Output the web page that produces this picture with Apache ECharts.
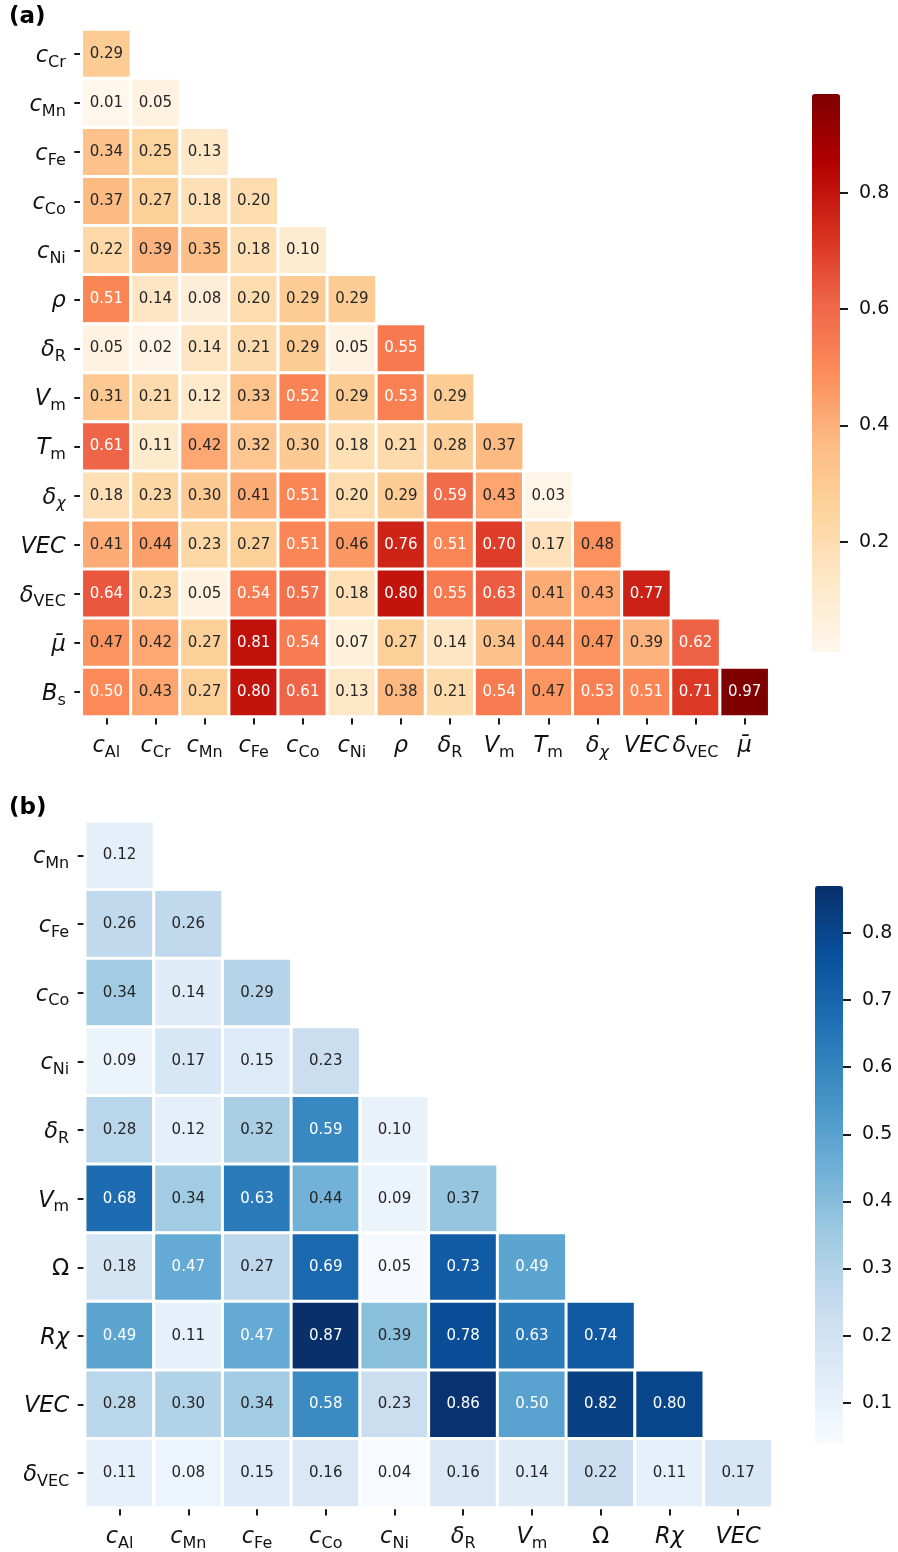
<!DOCTYPE html>
<html><head><meta charset="utf-8">
<script src="https://cdn.jsdelivr.net/npm/echarts@6/dist/echarts.min.js"></script>
<style>html,body{margin:0;padding:0;background:#fff}#c{width:898px;height:1552px}</style>
</head><body><div id="c"></div>
<script>
// ---------- data ----------
const xLabelsA = ['{i|c}{s|Al}','{i|c}{s|Cr}','{i|c}{s|Mn}','{i|c}{s|Fe}','{i|c}{s|Co}','{i|c}{s|Ni}','{i|ρ}','{i|δ}{s|R}','{i|V}{s|m}','{i|T}{s|m}','{i|δ}{si|χ}','{i|VEC}','{i|δ}{s|VEC}','{i|μ\u0304}'];
const yLabelsA = ['{i|c}{s|Cr}','{i|c}{s|Mn}','{i|c}{s|Fe}','{i|c}{s|Co}','{i|c}{s|Ni}','{i|ρ}','{i|δ}{s|R}','{i|V}{s|m}','{i|T}{s|m}','{i|δ}{si|χ}','{i|VEC}','{i|δ}{s|VEC}','{i|μ\u0304}','{i|B}{s|s}'];
const corrA = [
  [0.29],
  [0.01, 0.05],
  [0.34, 0.25, 0.13],
  [0.37, 0.27, 0.18, 0.20],
  [0.22, 0.39, 0.35, 0.18, 0.10],
  [0.51, 0.14, 0.08, 0.20, 0.29, 0.29],
  [0.05, 0.02, 0.14, 0.21, 0.29, 0.05, 0.55],
  [0.31, 0.21, 0.12, 0.33, 0.52, 0.29, 0.53, 0.29],
  [0.61, 0.11, 0.42, 0.32, 0.30, 0.18, 0.21, 0.28, 0.37],
  [0.18, 0.23, 0.30, 0.41, 0.51, 0.20, 0.29, 0.59, 0.43, 0.03],
  [0.41, 0.44, 0.23, 0.27, 0.51, 0.46, 0.76, 0.51, 0.70, 0.17, 0.48],
  [0.64, 0.23, 0.05, 0.54, 0.57, 0.18, 0.80, 0.55, 0.63, 0.41, 0.43, 0.77],
  [0.47, 0.42, 0.27, 0.81, 0.54, 0.07, 0.27, 0.14, 0.34, 0.44, 0.47, 0.39, 0.62],
  [0.50, 0.43, 0.27, 0.80, 0.61, 0.13, 0.38, 0.21, 0.54, 0.47, 0.53, 0.51, 0.71, 0.97]
];
const xLabelsB = ['{i|c}{s|Al}','{i|c}{s|Mn}','{i|c}{s|Fe}','{i|c}{s|Co}','{i|c}{s|Ni}','{i|δ}{s|R}','{i|V}{s|m}','{u|Ω}','{i|Rχ}','{i|VEC}'];
const yLabelsB = ['{i|c}{s|Mn}','{i|c}{s|Fe}','{i|c}{s|Co}','{i|c}{s|Ni}','{i|δ}{s|R}','{i|V}{s|m}','{u|Ω}','{i|Rχ}','{i|VEC}','{i|δ}{s|VEC}'];
const corrB = [
  [0.12],
  [0.26, 0.26],
  [0.34, 0.14, 0.29],
  [0.09, 0.17, 0.15, 0.23],
  [0.28, 0.12, 0.32, 0.59, 0.10],
  [0.68, 0.34, 0.63, 0.44, 0.09, 0.37],
  [0.18, 0.47, 0.27, 0.69, 0.05, 0.73, 0.49],
  [0.49, 0.11, 0.47, 0.87, 0.39, 0.78, 0.63, 0.74],
  [0.28, 0.30, 0.34, 0.58, 0.23, 0.86, 0.50, 0.82, 0.80],
  [0.11, 0.08, 0.15, 0.16, 0.04, 0.16, 0.14, 0.22, 0.11, 0.17]
];
const cbTicksA = [0.2, 0.4, 0.6, 0.8];
const cbTicksB = [0.1, 0.2, 0.3, 0.4, 0.5, 0.6, 0.7, 0.8];

// ---------- styles ----------
const F = 'DejaVu Sans';
const TXT = '#262626';
const TICK = '#1a1a1a';
const OrRd = ['#fff7ec','#fee8c8','#fdd49e','#fdbb84','#fc8d59','#ef6548','#d7301f','#b30000','#7f0000'];
const Blues = ['#f7fbff','#deebf7','#c6dbef','#9ecae1','#6baed6','#4292c6','#2171b5','#08519c','#08306b'];
const whiteAboveA = 0.495, whiteAboveB = 0.455;

const rich = {
  i: {fontFamily: F, fontStyle: 'italic', fontSize: 22.5, color: '#111', lineHeight: 34, padding: [4, 0, 0, 0]},
  u: {fontFamily: F, fontSize: 22.5, color: '#111', lineHeight: 34, padding: [4, 0, 0, 0]},
  s: {fontFamily: F, fontSize: 16, color: '#111', padding: [17, 0, 0, 0]},
  si: {fontFamily: F, fontStyle: 'italic', fontSize: 16, color: '#111', padding: [17, 0, 0, 0]}
};

function cells(rows, thr) {
  const out = [];
  rows.forEach((row, r) => row.forEach((v, c) => {
    out.push({value: [c, r, v], label: {color: v > thr ? '#ffffff' : TXT}});
  }));
  return out;
}
const flat = a => a.reduce((s, r) => s.concat(r), []);
const minA = Math.min(...flat(corrA)), maxA = Math.max(...flat(corrA));
const minB = Math.min(...flat(corrB)), maxB = Math.max(...flat(corrB));

function catX(data, gi) {
  return {type: 'category', gridIndex: gi, data: data, position: 'bottom',
    axisLine: {show: false}, splitLine: {show: false},
    axisTick: {show: true, alignWithLabel: true, length: 8, lineStyle: {color: TICK, width: 2}},
    axisLabel: {interval: 0, margin: 11, formatter: v => v, rich: rich}};
}
function catY(data, gi) {
  return {type: 'category', gridIndex: gi, data: data, inverse: true,
    axisLine: {show: false}, splitLine: {show: false},
    axisTick: {show: true, alignWithLabel: true, length: 7.5, lineStyle: {color: TICK, width: 2}},
    axisLabel: {interval: 0, margin: 16, formatter: v => v, rich: rich}};
}
function cbX(gi) { return {type: 'category', gridIndex: gi, show: false, data: ['']}; }
function cbY(gi, mn, mx, ticks) {
  return {type: 'value', gridIndex: gi, position: 'right', min: mn, max: mx,
    axisLine: {show: false}, splitLine: {show: false},
    axisTick: {show: true, length: 8, customValues: ticks, lineStyle: {color: TICK, width: 2}},
    axisLabel: {customValues: ticks, margin: 19, fontFamily: F, fontSize: 19, color: '#111', formatter: v => v.toFixed(1)}};
}

const option = {
  backgroundColor: '#fff',
  animation: false,
  title: [
    {text: '(a)', left: 9, top: 6, padding: 0, textStyle: {fontFamily: F, fontWeight: 'bold', fontSize: 23, color: '#000'}},
    {text: '(b)', left: 9, top: 797, padding: 0, textStyle: {fontFamily: F, fontWeight: 'bold', fontSize: 23, color: '#000'}}
  ],
  grid: [
    {left: 81.8, top: 29.5, width: 687.4, height: 687},
    {left: 85.2, top: 821.2, width: 687.3, height: 687},
    {left: 812, top: 94, width: 28, height: 558},
    {left: 815, top: 886, width: 28, height: 557}
  ],
  xAxis: [catX(xLabelsA, 0), catX(xLabelsB, 1), cbX(2), cbX(3)],
  yAxis: [catY(yLabelsA, 0), catY(yLabelsB, 1), cbY(2, minA, maxA, cbTicksA), cbY(3, minB, maxB, cbTicksB)],
  visualMap: [
    {type: 'continuous', seriesIndex: 0, min: minA, max: maxA, calculable: false, orient: 'vertical',
     left: 812, top: 94, itemWidth: 28, itemHeight: 558, padding: 0, text: null, showLabel: false,
     inRange: {color: OrRd}},
    {type: 'continuous', seriesIndex: 1, min: minB, max: maxB, calculable: false, orient: 'vertical',
     left: 815, top: 886, itemWidth: 28, itemHeight: 557, padding: 0, text: null, showLabel: false,
     inRange: {color: Blues}}
  ],
  series: [
    {type: 'heatmap', xAxisIndex: 0, yAxisIndex: 0, data: cells(corrA, whiteAboveA),
     label: {show: true, fontFamily: F, fontSize: 15, formatter: p => p.value[2].toFixed(2)},
     itemStyle: {borderColor: '#fff', borderWidth: 3}, emphasis: {disabled: true}},
    {type: 'heatmap', xAxisIndex: 1, yAxisIndex: 1, data: cells(corrB, whiteAboveB),
     label: {show: true, fontFamily: F, fontSize: 15, formatter: p => p.value[2].toFixed(2)},
     itemStyle: {borderColor: '#fff', borderWidth: 3}, emphasis: {disabled: true}}
  ]
};
const chart = echarts.init(document.getElementById('c'), null, {renderer: 'canvas'});
chart.setOption(option);
</script></body></html>
